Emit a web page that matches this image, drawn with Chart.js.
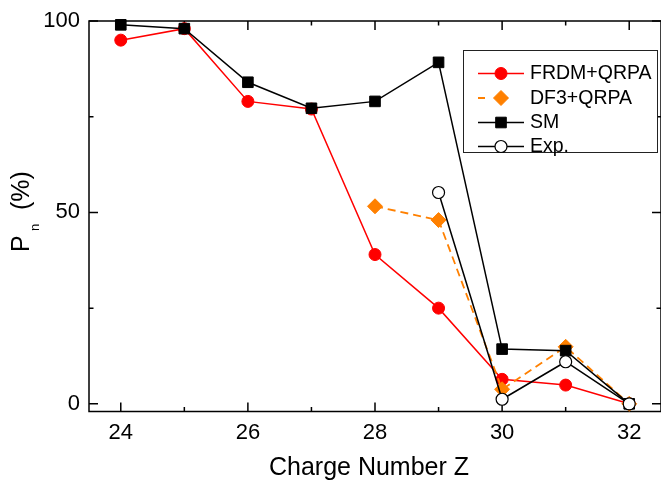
<!DOCTYPE html>
<html><head><meta charset="utf-8">
<script src="https://cdn.jsdelivr.net/npm/chart.js@4/dist/chart.umd.min.js"></script>
<style>html,body{margin:0;padding:0;background:#fff}#wrap{width:661px;height:483px;position:relative}</style>
</head><body><div id="wrap"><canvas id="c" width="661" height="483"></canvas></div>
<script>
// ---- data ----
const chargeZ = [24, 25, 26, 27, 28, 29, 30, 31, 32];
const frdmQrpa = [95, 98, 79, 77, 39, 25, 6.4, 4.9, 0];
const df3Qrpa = [null, null, null, null, 51.6, 48, 3.8, 14.9, 0];
const shellModel = [99, 98, 84, 77.2, 79, 89.2, 14.3, 13.9, 0];
const experiment = [null, null, null, null, null, 55.2, 1.2, 11, 0];
const seriesNames = ['FRDM+QRPA', 'DF3+QRPA', 'SM', 'Exp.'];
const xMajorTicks = [24, 26, 28, 30, 32];
const xMinorTicks = [25, 27, 29, 31];
const yMajorTicks = [0, 50, 100];
const yMinorTicks = [25, 75];
const xTitle = 'Charge Number Z';

const FONT = "'Liberation Sans', Arial, sans-serif";
const pts = arr => chargeZ.map((x, i) => ({ x: x, y: arr[i] }));

const datasets = [
  { label: seriesNames[0], data: pts(frdmQrpa), order: 4,
    borderColor: '#ff0000', backgroundColor: '#ff0000', borderWidth: 1.5,
    pointStyle: 'circle', pointRadius: 6, pointBorderWidth: 1, pointBorderColor: '#ff0000', pointBackgroundColor: '#ff0000' },
  { label: seriesNames[1], data: pts(df3Qrpa), order: 3,
    borderColor: '#ff8000', backgroundColor: '#ff8000', borderWidth: 1.8, borderDash: [8, 5],
    pointStyle: 'rectRot', pointRadius: 7.5, pointBorderWidth: 1, pointBorderColor: '#ff8000', pointBackgroundColor: '#ff8000' },
  { label: seriesNames[2], data: pts(shellModel), order: 2,
    borderColor: '#000000', backgroundColor: '#000000', borderWidth: 1.5,
    pointStyle: 'rect', pointRadius: 7.5, pointBorderWidth: 1, pointBorderColor: '#000000', pointBackgroundColor: '#000000' },
  { label: seriesNames[3], data: pts(experiment), order: 1,
    borderColor: '#000000', backgroundColor: '#ffffff', borderWidth: 1.5,
    pointStyle: 'circle', pointRadius: 6, pointBorderWidth: 1.2, pointBorderColor: '#000000', pointBackgroundColor: '#ffffff' }
];
datasets.forEach(d => { d.clip = false; d.tension = 0; d.spanGaps = false; });

const framePlugin = {
  id: 'frame',
  beforeDatasetsDraw(chart) {
    const { ctx, chartArea: a, scales: { x, y } } = chart;
    ctx.save();
    ctx.strokeStyle = '#000';
    ctx.lineWidth = 1.5;
    ctx.strokeRect(a.left, a.top, a.right - a.left, a.bottom - a.top);
    ctx.beginPath();
    const xt = (v, len) => { const p = x.getPixelForValue(v);
      ctx.moveTo(p, a.bottom); ctx.lineTo(p, a.bottom - len);
      ctx.moveTo(p, a.top); ctx.lineTo(p, a.top + len); };
    const yt = (v, len) => { const p = y.getPixelForValue(v);
      ctx.moveTo(a.left, p); ctx.lineTo(a.left + len, p);
      ctx.moveTo(a.right, p); ctx.lineTo(a.right - len, p); };
    xMajorTicks.forEach(v => xt(v, 9));
    xMinorTicks.forEach(v => xt(v, 4.5));
    yMajorTicks.forEach(v => yt(v, 9));
    yMinorTicks.forEach(v => yt(v, 4.5));
    ctx.stroke();
    ctx.restore();
  },
  afterDraw(chart) {
    const { ctx } = chart;
    ctx.save();
    // x title
    ctx.fillStyle = '#000';
    ctx.font = '25px ' + FONT;
    ctx.textAlign = 'center';
    ctx.textBaseline = 'alphabetic';
    ctx.fillText(xTitle, 369, 475);
    // y title P_n (%)
    ctx.save();
    ctx.translate(29, 252);
    ctx.rotate(-Math.PI / 2);
    ctx.textAlign = 'left';
    ctx.font = '25px ' + FONT;
    ctx.fillText('P', 0, 0);
    ctx.font = '13px ' + FONT;
    ctx.fillText('n', 21, 9.5);
    ctx.font = '25px ' + FONT;
    ctx.fillText('(%)', 42, 0);
    ctx.restore();
    // legend
    const bx = 463, by = 50, bw = 194, bh = 102;
    ctx.fillStyle = '#fff';
    ctx.fillRect(bx, by, bw, bh);
    ctx.strokeStyle = '#222';
    ctx.lineWidth = 1;
    ctx.strokeRect(bx + 0.5, by + 0.5, bw, bh);
    const rows = [73.5, 98, 122.5, 146.5];
    chart.data.datasets.forEach((ds, i) => {
      const cy = rows[i];
      ctx.save();
      ctx.strokeStyle = ds.borderColor;
      ctx.lineWidth = ds.borderWidth;
      if (ds.borderDash) ctx.setLineDash([7, 16]); else ctx.setLineDash([]);
      ctx.beginPath();
      ctx.moveTo(478, cy); ctx.lineTo(524, cy);
      ctx.stroke();
      ctx.setLineDash([]);
      ctx.fillStyle = ds.pointBackgroundColor;
      ctx.strokeStyle = ds.pointBorderColor;
      ctx.lineWidth = ds.pointBorderWidth;
      Chart.helpers.drawPoint(ctx, { pointStyle: ds.pointStyle, rotation: 0, borderWidth: ds.pointBorderWidth, radius: ds.pointRadius }, 501, cy);
      ctx.restore();
      ctx.fillStyle = '#000';
      ctx.font = '19.5px ' + FONT;
      ctx.textAlign = 'left';
      ctx.textBaseline = 'middle';
      ctx.fillText(ds.label, 530, cy + 0.5);
    });
    ctx.restore();
  }
};

new Chart(document.getElementById('c'), {
  type: 'line',
  data: { datasets },
  options: {
    responsive: false,
    devicePixelRatio: 1,
    animation: false,
    layout: { autoPadding: false, padding: { top: 21, right: 0, left: 0, bottom: 0 } },
    plugins: { legend: { display: false }, tooltip: { enabled: false } },
    scales: {
      x: {
        type: 'linear', min: 23.5, max: 32.5,
        grid: { display: false, drawTicks: false }, border: { display: false },
        afterBuildTicks: s => { s.ticks = xMajorTicks.map(v => ({ value: v })); },
        afterFit: s => { s.height = 71.5; s.paddingLeft = 0; s.paddingRight = 0; },
        ticks: { font: { family: FONT, size: 22 }, color: '#000', padding: 8, maxRotation: 0, autoSkip: false,
                 callback: v => String(v) }
      },
      y: {
        type: 'linear', min: -2, max: 100,
        grid: { display: false, drawTicks: false }, border: { display: false },
        afterBuildTicks: s => { s.ticks = yMajorTicks.map(v => ({ value: v })); },
        afterFit: s => { s.width = 89; s.paddingTop = 0; s.paddingBottom = 0; },
        ticks: { font: { family: FONT, size: 22 }, color: '#000', padding: 9, callback: v => String(v) }
      }
    }
  },
  plugins: [framePlugin]
});
</script>
</body></html>
